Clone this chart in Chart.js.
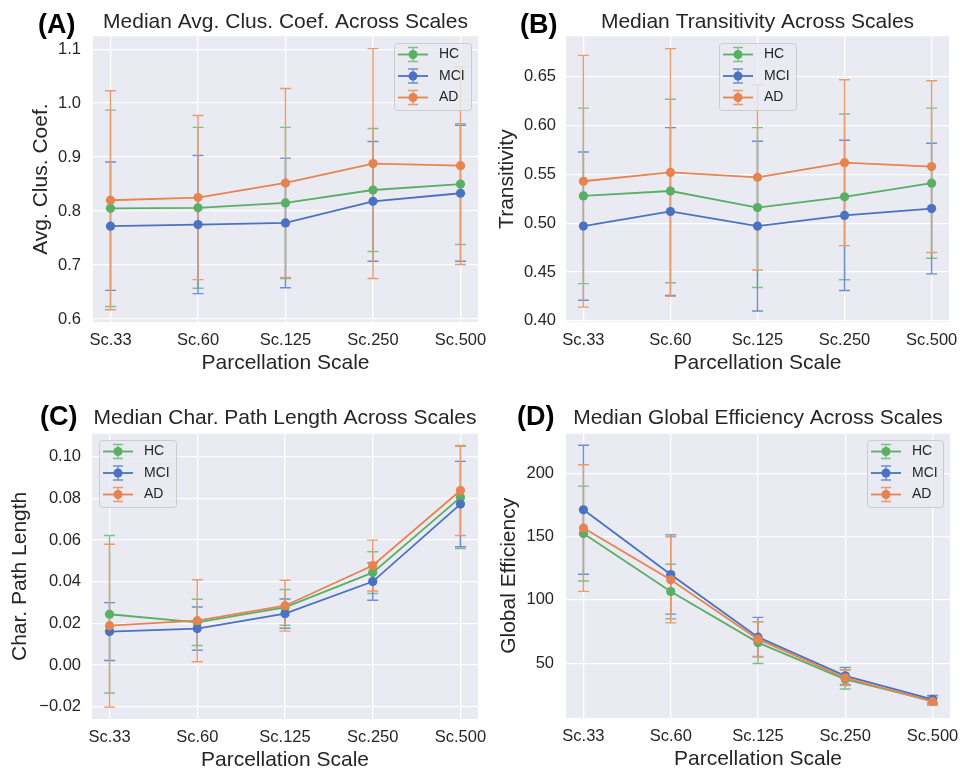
<!DOCTYPE html>
<html>
<head>
<meta charset="utf-8">
<script src="https://cdn.jsdelivr.net/npm/chart.js@4.4.1/dist/chart.umd.min.js"></script>
<style>
  body { margin: 0; background: #fff; }
  #wrap { position: relative; width: 965px; height: 775px; }
  .panel { position: absolute; }
  .tag { position: absolute; font: bold 27px "Liberation Sans", Arial, sans-serif; color: #000; line-height: 1; }
</style>
</head>
<body>
<div id="wrap">
  <div class="panel" style="left:0;top:0"><canvas id="chartA" width="500" height="385"></canvas></div>
  <div class="panel" style="left:482px;top:0"><canvas id="chartB" width="483" height="385"></canvas></div>
  <div class="panel" style="left:0;top:385px"><canvas id="chartC" width="500" height="390"></canvas></div>
  <div class="panel" style="left:482px;top:385px"><canvas id="chartD" width="483" height="390"></canvas></div>
  <div class="tag" style="left:38px;top:11px">(A)</div>
  <div class="tag" style="left:520px;top:11px">(B)</div>
  <div class="tag" style="left:40px;top:403px">(C)</div>
  <div class="tag" style="left:517px;top:403px">(D)</div>
</div>
<script>
const scaleLabels = ['Sc.33', 'Sc.60', 'Sc.125', 'Sc.250', 'Sc.500'];
const groups = ['HC', 'MCI', 'AD'];

// (A) average clustering coefficient
const clusHC = [0.805, 0.806, 0.815, 0.839, 0.850];
const clusHCErr = [0.182, 0.149, 0.140, 0.114, 0.112];
const clusMCI = [0.772, 0.775, 0.778, 0.818, 0.833];
const clusMCIErr = [0.119, 0.128, 0.120, 0.111, 0.126];
const clusAD = [0.820, 0.825, 0.852, 0.888, 0.884];
const clusADErr = [0.203, 0.152, 0.175, 0.213, 0.183];

// (B) transitivity
const transHC = [0.528, 0.533, 0.516, 0.527, 0.541];
const transHCErr = [0.090, 0.094, 0.082, 0.085, 0.077];
const transMCI = [0.497, 0.512, 0.497, 0.508, 0.515];
const transMCIErr = [0.076, 0.086, 0.087, 0.077, 0.067];
const transAD = [0.543, 0.552, 0.547, 0.562, 0.558];
const transADErr = [0.129, 0.127, 0.095, 0.085, 0.088];

// (C) characteristic path length
const pathHC = [0.0244, 0.0205, 0.0277, 0.0444, 0.0805];
const pathHCErr = [0.0378, 0.0111, 0.0086, 0.0100, 0.0245];
const pathMCI = [0.0161, 0.0175, 0.0247, 0.0401, 0.0773];
const pathMCIErr = [0.0139, 0.0104, 0.0070, 0.0090, 0.0205];
const pathAD = [0.0189, 0.0213, 0.0285, 0.0478, 0.0838];
const pathADErr = [0.0391, 0.0197, 0.0122, 0.0122, 0.0216];

// (D) global efficiency
const effHC = [152.5, 106.7, 66.3, 37.3, 20.2];
const effHCErr = [37.5, 21.5, 16.5, 7.7, 3.0];
const effMCI = [171.3, 120.1, 70.6, 40.0, 21.5];
const effMCIErr = [51.0, 31.3, 15.6, 6.7, 3.0];
const effAD = [156.8, 115.9, 69.0, 38.4, 19.7];
const effADErr = [50.0, 34.0, 13.7, 6.0, 3.0];

const GREEN = '#5aae66', BLUE = '#4a72c2', ORANGE = '#e6844f';
const ERR_GREEN = '#7fc18a', ERR_BLUE = '#6f8fd0', ERR_ORANGE = '#ec9b6c';
const FONT = '"Liberation Sans", Arial, sans-serif';
const TEXT = '#262626';

const plotBackground = {
    id: 'plotBackground',
    beforeDraw(chart) {
        const { ctx, chartArea: a } = chart;
        ctx.save();
        ctx.fillStyle = '#eaeaf2';
        ctx.fillRect(a.left, a.top, a.right - a.left, a.bottom - a.top);
        ctx.restore();
    }
};

// symmetric error bars, drawn under all lines, AD last
const errorBars = {
    id: 'errorBars',
    beforeDatasetsDraw(chart) {
        const ctx = chart.ctx, y = chart.scales.y;
        chart.data.datasets.forEach((ds, i) => {
            const meta = chart.getDatasetMeta(i);
            ctx.save();
            ctx.strokeStyle = ds.errColor;
            ctx.lineWidth = 1.4;
            meta.data.forEach((pt, j) => {
                const v = ds.data[j].y, e = ds.errors[j];
                const top = y.getPixelForValue(v + e), bot = y.getPixelForValue(v - e);
                ctx.beginPath();
                ctx.moveTo(pt.x, top); ctx.lineTo(pt.x, bot);
                ctx.moveTo(pt.x - 5.5, top); ctx.lineTo(pt.x + 5.5, top);
                ctx.moveTo(pt.x - 5.5, bot); ctx.lineTo(pt.x + 5.5, bot);
                ctx.stroke();
            });
            ctx.restore();
        });
    }
};

const boxLegend = {
    id: 'boxLegend',
    afterDraw(chart, args, opts) {
        const ctx = chart.ctx, b = opts.box;
        ctx.save();
        ctx.fillStyle = 'rgba(234,234,242,0.8)';
        ctx.strokeStyle = '#cccccc';
        ctx.lineWidth = 1;
        ctx.beginPath();
        ctx.roundRect(b.x + 0.5, b.y + 0.5, b.w, b.h, 3);
        ctx.fill();
        ctx.stroke();
        chart.data.datasets.forEach((ds, i) => {
            const cy = b.y + 11.5 + i * 21.5;
            const x0 = b.x + 4, x1 = b.x + 34, cx = b.x + 19;
            ctx.strokeStyle = ds.errColor;
            ctx.lineWidth = 1.4;
            ctx.beginPath();
            ctx.moveTo(cx, cy - 7); ctx.lineTo(cx, cy + 7);
            ctx.moveTo(cx - 5, cy - 7); ctx.lineTo(cx + 5, cy - 7);
            ctx.moveTo(cx - 5, cy + 7); ctx.lineTo(cx + 5, cy + 7);
            ctx.stroke();
            ctx.strokeStyle = ds.borderColor;
            ctx.lineWidth = 1.8;
            ctx.beginPath(); ctx.moveTo(x0, cy); ctx.lineTo(x1, cy); ctx.stroke();
            ctx.fillStyle = ds.borderColor;
            ctx.beginPath(); ctx.arc(cx, cy, 4.5, 0, Math.PI * 2); ctx.fill();
            ctx.fillStyle = TEXT;
            ctx.font = '14px ' + FONT;
            ctx.textBaseline = 'middle';
            ctx.fillText(groups[i], b.x + 45, cy);
        });
        ctx.restore();
    }
};

function series(label, values, errors, color, errColor, order) {
    return {
        label: label,
        data: values.map((v, i) => ({ x: i, y: v })),
        errors: errors,
        borderColor: color,
        backgroundColor: color,
        errColor: errColor,
        borderWidth: 1.8,
        pointRadius: 4.6,
        pointBorderWidth: 0,
        pointBackgroundColor: color,
        order: order
    };
}

function buildPanel(id, p) {
    new Chart(document.getElementById(id), {
        type: 'line',
        data: {
            datasets: [
                series('HC', p.hc, p.hcErr, GREEN, ERR_GREEN, 3),
                series('MCI', p.mci, p.mciErr, BLUE, ERR_BLUE, 2),
                series('AD', p.ad, p.adErr, ORANGE, ERR_ORANGE, 1)
            ]
        },
        options: {
            responsive: false,
            animation: false,
            layout: { padding: { left: 0, right: p.padRight, top: p.padTop, bottom: 0 } },
            plugins: {
                legend: { display: false },
                tooltip: { enabled: false },
                title: {
                    display: true, text: p.title, fullSize: false, color: TEXT,
                    font: { family: FONT, size: 21, weight: 'normal' },
                    padding: { top: 0, bottom: p.titleGap }
                },
                boxLegend: { box: p.legendBox }
            },
            scales: {
                x: {
                    type: 'linear', min: -0.2, max: 4.2,
                    afterFit(s) { s.height = p.xHeight; s.paddingLeft = 0; s.paddingRight = 0; },
                    grid: { color: '#ffffff', lineWidth: 1.3, drawTicks: false },
                    border: { display: false },
                    ticks: {
                        stepSize: 1, includeBounds: false, padding: 9, color: TEXT,
                        font: { family: FONT, size: 16.5 },
                        callback: v => scaleLabels[v]
                    },
                    title: {
                        display: true, text: 'Parcellation Scale', color: TEXT,
                        font: { family: FONT, size: 21 },
                        padding: { top: 0, bottom: p.xTitlePad }
                    }
                },
                y: {
                    min: p.yMin, max: p.yMax,
                    afterFit(s) { s.width = p.yWidth; s.paddingTop = 0; s.paddingBottom = 0; },
                    grid: { color: '#ffffff', lineWidth: 1.3, drawTicks: false },
                    border: { display: false },
                    ticks: {
                        stepSize: p.yStep, includeBounds: false, padding: p.yTickPad, color: TEXT,
                        font: { family: FONT, size: 16.5 },
                        callback: v => p.fmt(v)
                    },
                    title: {
                        display: true, text: p.yTitle, color: TEXT,
                        font: { family: FONT, size: 21 },
                        padding: { top: p.yTitlePad, bottom: 0 }
                    }
                }
            }
        },
        plugins: [plotBackground, errorBars, boxLegend]
    });
}

const minus = s => s.replace('-', '\u2212');

buildPanel('chartA', {
    title: 'Median Avg. Clus. Coef. Across Scales', yTitle: 'Avg. Clus. Coef.',
    hc: clusHC, hcErr: clusHCErr, mci: clusMCI, mciErr: clusMCIErr, ad: clusAD, adErr: clusADErr,
    yMin: 0.5944, yMax: 1.124, yStep: 0.1, fmt: v => v.toFixed(1),
    padRight: 22, padTop: 10, titleGap: 1, xHeight: 63, xTitlePad: 9,
    yWidth: 93, yTickPad: 12, yTitlePad: 29,
    legendBox: { x: 394, y: 43, w: 77, h: 67 }
});

buildPanel('chartB', {
    title: 'Median Transitivity Across Scales', yTitle: 'Transitivity',
    hc: transHC, hcErr: transHCErr, mci: transMCI, mciErr: transMCIErr, ad: transAD, adErr: transADErr,
    yMin: 0.3987, yMax: 0.6917, yStep: 0.05, fmt: v => v.toFixed(2),
    padRight: 16, padTop: 10, titleGap: 1, xHeight: 63, xTitlePad: 9,
    yWidth: 84, yTickPad: 10, yTitlePad: 13,
    legendBox: { x: 237, y: 43, w: 77, h: 67 }
});

buildPanel('chartC', {
    title: 'Median Char. Path Length Across Scales', yTitle: 'Char. Path Length',
    hc: pathHC, hcErr: pathHCErr, mci: pathMCI, mciErr: pathMCIErr, ad: pathAD, adErr: pathADErr,
    yMin: -0.0259, yMax: 0.1111, yStep: 0.02, fmt: v => minus(v.toFixed(2)),
    padRight: 22, padTop: 21, titleGap: 2.5, xHeight: 56, xTitlePad: 2,
    yWidth: 92, yTickPad: 11, yTitlePad: 8,
    legendBox: { x: 99, y: 55, w: 77, h: 67 }
});

buildPanel('chartD', {
    title: 'Median Global Efficiency Across Scales', yTitle: 'Global Efficiency',
    hc: effHC, hcErr: effHCErr, mci: effMCI, mciErr: effMCIErr, ad: effAD, adErr: effADErr,
    yMin: 6.7, yMax: 231.4, yStep: 50, fmt: v => v.toFixed(0),
    padRight: 15, padTop: 21, titleGap: 2.5, xHeight: 57, xTitlePad: 3,
    yWidth: 84, yTickPad: 12, yTitlePad: 15,
    legendBox: { x: 385, y: 55, w: 76, h: 67 }
});
</script>
</body>
</html>
